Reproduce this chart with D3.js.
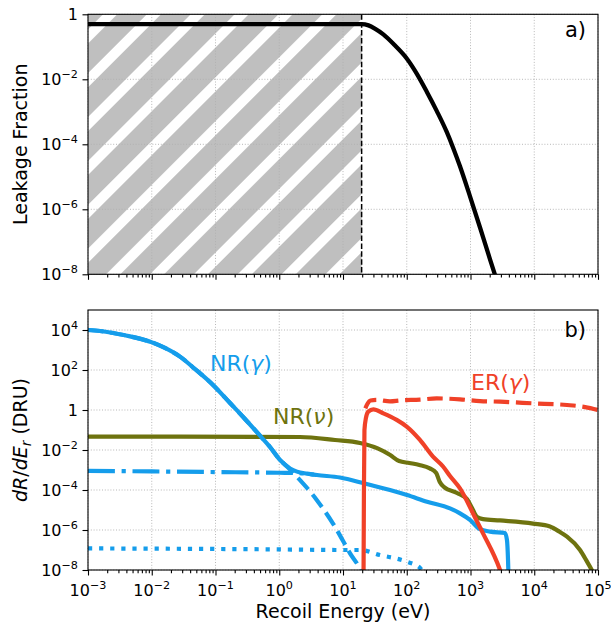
<!DOCTYPE html>
<html><head><meta charset="utf-8">
<script src="https://cdn.jsdelivr.net/npm/d3@7"></script>
<style>body{margin:0;background:#fff} text{font-family:"DejaVu Sans",sans-serif;fill:#000}</style>
</head><body><svg id="c" width="611" height="623"></svg>
<script>
// ---------- data ----------
const xTickExp = [-3,-2,-1,0,1,2,3,4,5];
const topYTickExp = [0,-2,-4,-6,-8];
const botYTickExp = [4,2,0,-2,-4,-6,-8];
const threshold = 19.6; // eV

// a) leakage fraction
const leakE = [1e-3, 19.6, 25.1, 31.6, 42.9, 63.1, 100, 141, 206, 295, 424, 537, 684, 982, 1410, 1995, 2360, 2818];
const leakF = [0.5, 0.5, 0.457, 0.363, 0.24, 0.1175, 0.0437, 0.0158, 4.17e-3, 1.07e-3, 2.4e-4, 7.6e-5, 2.1e-5, 2.5e-6, 2.75e-7, 3.16e-8, 1.12e-8, 4e-9];

// b) NR(gamma) total
const nrgE = [1e-3, 1.54e-3, 2.47e-3, 4.56e-3, 0.0101, 0.0161, 0.0277, 0.0476, 0.0914, 0.169, 0.290, 0.464, 0.716, 1.03, 1.476, 1.90, 2.72, 3.91, 8.97, 22.1, 54.6, 101, 208, 477, 684, 981, 1410, 2023, 3475, 3730, 3880, 3945];
const nrgR = [1.0e4, 8.9e3, 7.1e3, 4.8e3, 2.4e3, 1.26e3, 468, 112, 17.8, 2.24, 0.355, 0.0676, 0.0141, 3.16e-3, 1.2e-3, 8.3e-4, 6.6e-4, 5.6e-4, 4.2e-4, 2.1e-4, 1.0e-4, 5.6e-5, 2.6e-5, 1.2e-5, 6.8e-6, 3.2e-6, 1.1e-6, 8.3e-7, 7.1e-7, 3.2e-7, 3e-8, 5e-9];
// NR(gamma) components
const nrgDashE = [1e-3, 1.54e-3, 2.47e-3, 4.56e-3, 0.0101, 0.0161, 0.0277, 0.0476, 0.0914, 0.169, 0.290, 0.464, 0.716, 1.03, 1.476, 1.88, 3.87, 6.97, 12.9, 18.5, 20];
const nrgDashR = [1.0e4, 8.9e3, 7.1e3, 4.8e3, 2.4e3, 1.26e3, 468, 112, 17.8, 2.24, 0.355, 0.0676, 0.0141, 3.16e-3, 1.07e-3, 4.7e-4, 3.2e-5, 2.1e-6, 6.8e-8, 1e-8, 5e-9];
const nrgDashDotE = [1e-3, 0.01, 0.1, 1, 2, 3.5];
const nrgDashDotR = [9e-4, 8.5e-4, 7.9e-4, 7.3e-4, 7.0e-4, 5.8e-4];
const nrgDotE = [1e-3, 1, 10, 18.5, 38, 100, 162, 180];
const nrgDotR = [1.2e-7, 1.07e-7, 1.0e-7, 1.0e-7, 5.6e-8, 2.6e-8, 1.26e-8, 8e-9];

// b) NR(nu)
const nrnE = [1e-3, 2.12, 7.5, 18.5, 35, 55, 76, 110, 158, 230, 290, 330, 385, 614, 881, 1056, 1265, 1570, 2904, 9556, 17650, 25330, 32640, 52240, 64900, 79600, 90000];
const nrnR = [0.0468, 0.0447, 0.0316, 0.0224, 0.012, 5.6e-3, 2.8e-3, 2.24e-3, 1.78e-3, 1.2e-3, 7.1e-4, 2.5e-4, 1.4e-4, 7.1e-5, 3.5e-5, 1.26e-5, 4.5e-6, 3.5e-6, 3.0e-6, 2.1e-6, 1.5e-6, 7.9e-7, 4.7e-7, 1e-7, 3.2e-8, 1e-8, 4e-9];

// b) ER(gamma)
const ergE = [21.0, 21.3, 21.7, 22.9, 24.9, 29.9, 42.9, 69.5, 99.8, 161, 258, 371, 477, 684, 1177, 1572, 2904, 3200];
const ergR = [5e-9, 1e-4, 0.1, 0.4, 0.83, 1.07, 0.68, 0.32, 0.148, 0.032, 4.7e-3, 1.5e-3, 5.0e-4, 1.2e-4, 4.2e-6, 6.8e-7, 1e-8, 4e-9];
const ergDashE = [22.4, 24.1, 27.0, 34.1, 54.6, 78.3, 161, 295, 684, 1410, 2904, 9556, 32640, 63000, 100000];
const ergDashR = [1.2, 2.0, 3.0, 3.2, 2.7, 3.0, 3.3, 3.8, 3.4, 2.8, 2.6, 2.15, 1.78, 1.4, 1.0];

// ---------- layout ----------
const BLUE = "#159deb", RED = "#f04128", OLIVE = "#6e730f";
const L = 88, R = 598;
const pTop = {y0: 14.3, y1: 274.3}, pBot = {y0: 310, y1: 570};

const svg = d3.select("#c");
const x = d3.scaleLog().domain([1e-3, 1e5]).range([L, R]);
const yT = d3.scaleLog().domain([1e-8, 1]).range([pTop.y1, pTop.y0]);
const yB = d3.scaleLog().domain([1e-8, 1e5]).range([pBot.y1, pBot.y0]);

const defs = svg.append("defs");
const pat = defs.append("pattern").attr("id", "hatch").attr("patternUnits", "userSpaceOnUse")
  .attr("width", 31).attr("height", 31).attr("patternTransform", "rotate(45)");
pat.append("rect").attr("width", 31).attr("height", 31).attr("fill", "#fff");
pat.append("rect").attr("width", 21).attr("height", 31).attr("fill", "#bfbfbf");
defs.append("clipPath").attr("id", "clipT").append("rect").attr("x", L).attr("y", pTop.y0).attr("width", R - L).attr("height", pTop.y1 - pTop.y0);
defs.append("clipPath").attr("id", "clipB").append("rect").attr("x", L).attr("y", pBot.y0).attr("width", R - L).attr("height", pBot.y1 - pBot.y0);

const minorVals = [];
for (let e = -3; e < 5; e++) for (let k = 2; k <= 9; k++) minorVals.push(k * Math.pow(10, e));

function sup(sel, base, exp, size) {
  sel.append("tspan").text(base);
  sel.append("tspan").attr("font-size", size * 0.7).attr("dy", -size * 0.42).text(exp < 0 ? "\u2212" + (-exp) : String(exp));
}

function panel(y, y0, y1, yExps, showXLabels) {
  const g = svg.append("g");
  const grid = g.append("g").attr("stroke", "#b0b0b0").attr("stroke-width", 0.9).attr("stroke-dasharray", "1,1.8");
  xTickExp.forEach(e => grid.append("line").attr("x1", x(Math.pow(10, e))).attr("x2", x(Math.pow(10, e))).attr("y1", y0).attr("y2", y1));
  yExps.forEach(e => grid.append("line").attr("x1", L).attr("x2", R).attr("y1", y(Math.pow(10, e))).attr("y2", y(Math.pow(10, e))));
  const ax = g.append("g").attr("transform", `translate(0,${y1})`);
  ax.call(d3.axisBottom(x).tickValues(xTickExp.map(e => Math.pow(10, e))).tickSize(5.5).tickFormat(""));
  ax.append("g").call(d3.axisBottom(x).tickValues(minorVals).tickSize(3.2).tickFormat(""));
  ax.selectAll(".domain").remove();
  ax.selectAll(".tick line").attr("stroke", "#000").attr("stroke-width", 1.1);
  const ay = g.append("g").attr("transform", `translate(${L},0)`);
  ay.call(d3.axisLeft(y).tickValues(yExps.map(e => Math.pow(10, e))).tickSize(5.5).tickFormat(""));
  ay.selectAll(".domain").remove();
  ay.selectAll(".tick line").attr("stroke", "#000").attr("stroke-width", 1.1);
  yExps.forEach(e => {
    const t = g.append("text").attr("x", 78).attr("y", y(Math.pow(10, e)) + 5.8).attr("text-anchor", "end").attr("font-size", 16);
    if (e === 0) t.text("1"); else sup(t, "10", e, 16);
  });
  if (showXLabels) {
    xTickExp.forEach(e => {
      const t = g.append("text").attr("x", x(Math.pow(10, e))).attr("y", y1 + 26).attr("text-anchor", "middle").attr("font-size", 16);
      sup(t, "10", e, 16);
    });
  }
  return g;
}

// ---- panel a ----
svg.append("rect").attr("x", L).attr("y", pTop.y0).attr("width", x(threshold) - L).attr("height", pTop.y1 - pTop.y0).attr("fill", "url(#hatch)");
panel(yT, pTop.y0, pTop.y1, topYTickExp, false);
const cA = svg.append("g").attr("clip-path", "url(#clipT)");
cA.append("line").attr("x1", x(threshold)).attr("x2", x(threshold)).attr("y1", pTop.y0).attr("y2", pTop.y1)
  .attr("stroke", "#000").attr("stroke-width", 1.5).attr("stroke-dasharray", "5.5,2.4");
const lineT = d3.line().x(d => x(d[0])).y(d => yT(d[1])).curve(d3.curveMonotoneX);
cA.append("path").attr("d", lineT(d3.zip(leakE, leakF))).attr("fill", "none").attr("stroke", "#000").attr("stroke-width", 4.3);
svg.append("rect").attr("x", L).attr("y", pTop.y0).attr("width", R - L).attr("height", pTop.y1 - pTop.y0).attr("fill", "none").attr("stroke", "#000").attr("stroke-width", 1.1);
svg.append("text").attr("x", 586).attr("y", 37).attr("text-anchor", "end").attr("font-size", 21).text("a)");
svg.append("text").attr("transform", `translate(27,${(pTop.y0 + pTop.y1) / 2}) rotate(-90)`).attr("text-anchor", "middle").attr("font-size", 19).text("Leakage Fraction");

// ---- panel b ----
panel(yB, pBot.y0, pBot.y1, botYTickExp, true);
const cB = svg.append("g").attr("clip-path", "url(#clipB)");
const lineB = d3.line().x(d => x(d[0])).y(d => yB(d[1])).curve(d3.curveMonotoneX);
function draw(E, Rv, color, dash) {
  const p = cB.append("path").attr("d", lineB(d3.zip(E, Rv))).attr("fill", "none").attr("stroke", color).attr("stroke-width", 4.2);
  if (dash) p.attr("stroke-dasharray", dash);
}
draw(nrgDotE, nrgDotR, BLUE, "4.2,6.9");
draw(nrgDashDotE, nrgDashDotR, BLUE, "26.9,6.7,4.2,6.7");
draw(nrgDashE, nrgDashR, BLUE, "15.5,6.7");
draw(nrnE, nrnR, OLIVE);
draw(nrgE, nrgR, BLUE);
draw(ergDashE, ergDashR, RED, "15.5,6.7");
draw(ergE, ergR, RED);
svg.append("rect").attr("x", L).attr("y", pBot.y0).attr("width", R - L).attr("height", pBot.y1 - pBot.y0).attr("fill", "none").attr("stroke", "#000").attr("stroke-width", 1.1);

function lab(xp, yp, main, greek, color) {
  const t = svg.append("text").attr("x", xp).attr("y", yp).attr("font-size", 22).style("fill", color);
  t.append("tspan").text(main + "(");
  t.append("tspan").attr("font-style", "italic").text(greek);
  t.append("tspan").text(")");
}
lab(210, 371, "NR", "\u03b3", BLUE);
lab(273, 424, "NR", "\u03bd", OLIVE);
lab(471, 390, "ER", "\u03b3", RED);
svg.append("text").attr("x", 586).attr("y", 337).attr("text-anchor", "end").attr("font-size", 21).text("b)");

const yl = svg.append("text").attr("transform", `translate(27,${(pBot.y0 + pBot.y1) / 2}) rotate(-90)`).attr("text-anchor", "middle").attr("font-size", 19);
yl.append("tspan").attr("font-style", "italic").text("dR");
yl.append("tspan").text("/");
yl.append("tspan").attr("font-style", "italic").text("dE");
yl.append("tspan").attr("font-style", "italic").attr("font-size", 13.5).attr("dy", 4).text("r");
yl.append("tspan").attr("dy", -4).text(" (DRU)");
svg.append("text").attr("x", (L + R) / 2).attr("y", 618).attr("text-anchor", "middle").attr("font-size", 19).text("Recoil Energy (eV)");
</script>
</body></html>
